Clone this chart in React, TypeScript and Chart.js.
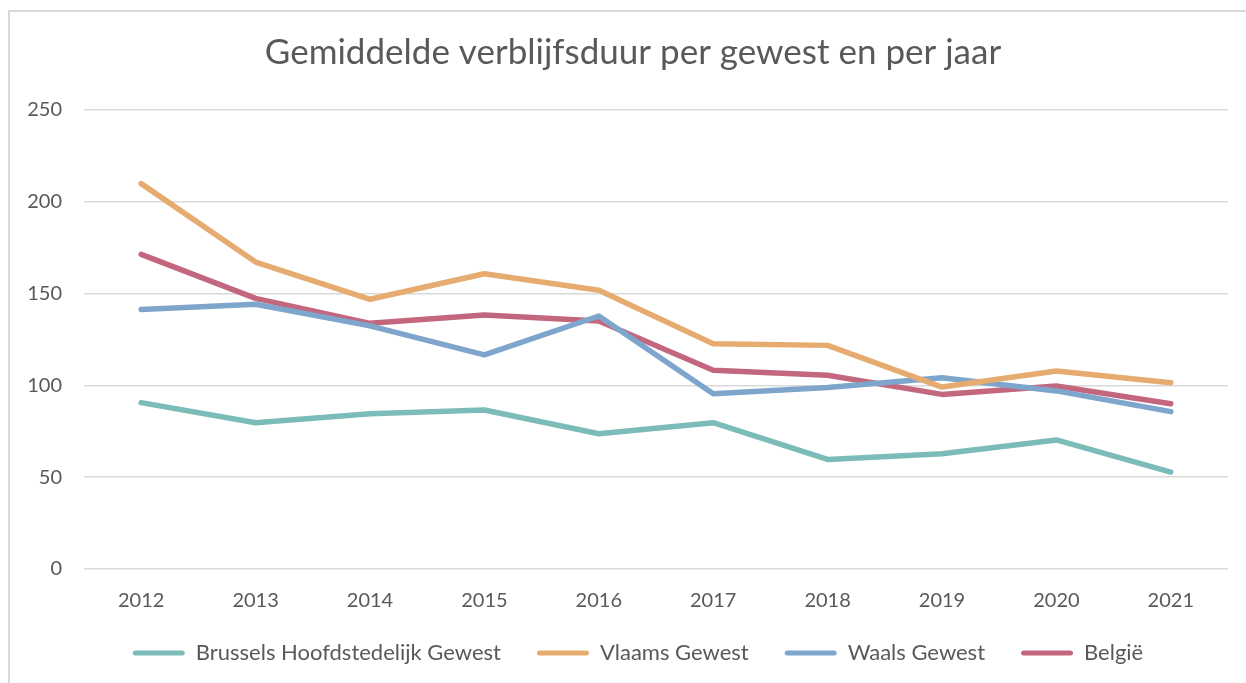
import React, { useEffect, useRef } from "react";
import { Chart, registerables } from "chart.js";

Chart.register(...registerables);

const years = ["2012", "2013", "2014", "2015", "2016", "2017", "2018", "2019", "2020", "2021"];
const brussels = [90.6, 79.7, 84.6, 86.6, 73.7, 79.7, 59.7, 62.8, 70.3, 52.8];
const vlaams = [209.9, 167.2, 146.9, 160.8, 151.8, 122.7, 121.8, 99.1, 107.8, 101.5];
const waals = [141.4, 144.2, 132.4, 116.6, 137.8, 95.5, 98.8, 104.2, 97.0, 85.7];
const belgie = [171.4, 147.4, 133.8, 138.3, 135.1, 108.2, 105.5, 95.1, 99.7, 90.0];
const seriesNames = ["Brussels Hoofdstedelijk Gewest", "Vlaams Gewest", "Waals Gewest", "België"];
const seriesColors = ["#7bbcb8", "#e6ab6f", "#7ea6cd", "#c3677f"];
const titleText = "Gemiddelde verblijfsduur per gewest en per jaar";

const FONT = "Lato, 'Open Sans', sans-serif";
const TEXT = "#595959";

const shiftBoxes = {
  id: "shiftBoxes",
  afterLayout(chart: any) {
    const t = chart.titleBlock;
    if (t) {
      t.left += 19;
      t.right += 19;
    }
    const l = chart.legend;
    if (l) {
      l.left += 24;
      l.right += 24;
    }
    const x = chart.scales.x;
    if (x) {
      x.bottom += 27;
      x.height += 27;
    }
  },
};

export default function App() {
  const ref = useRef<HTMLCanvasElement | null>(null);

  useEffect(() => {
    const canvas = ref.current;
    if (!canvas) return;
    const values = [brussels, vlaams, waals, belgie];
    const chart = new Chart(canvas, {
      type: "line",
      data: {
        labels: years,
        datasets: values.map((v, i) => ({
          label: seriesNames[i],
          data: v,
          borderColor: seriesColors[i],
          backgroundColor: seriesColors[i],
          borderWidth: 5.5,
          pointRadius: 0,
          tension: 0,
          borderCapStyle: "round" as const,
          borderJoinStyle: "round" as const,
        })),
      },
      plugins: [shiftBoxes],
      options: {
        animation: false,
        responsive: false,
        maintainAspectRatio: false,
        layout: { padding: { left: 0, right: 18, top: 0, bottom: 9 } },
        plugins: {
          title: {
            display: true,
            text: titleText,
            color: TEXT,
            font: { family: FONT, size: 35, weight: "normal" },
            padding: { top: 32, bottom: 36 },
          },
          legend: {
            position: "bottom",
            labels: {
              color: TEXT,
              font: { family: FONT, size: 22 },
              boxWidth: 52,
              boxHeight: 5,
              padding: 36,
              useBorderRadius: true,
              borderRadius: 2.5,
              generateLabels: (c: any) =>
                c.data.datasets.map((d: any, i: number) => ({
                  text: d.label,
                  fillStyle: d.borderColor,
                  strokeStyle: d.borderColor,
                  lineWidth: 0,
                  fontColor: TEXT,
                  hidden: false,
                  datasetIndex: i,
                  borderRadius: 2.5,
                })),
            },
          },
          tooltip: { enabled: false },
        },
        scales: {
          x: {
            offset: true,
            grid: { display: false, drawTicks: false },
            border: { display: false },
            ticks: { color: TEXT, font: { family: FONT, size: 20 }, padding: 20, maxRotation: 0 },
            afterFit: (s: any) => {
              s.height -= 27;
            },
          },
          y: {
            min: 0,
            max: 250,
            grid: { color: "#d9d9d9", lineWidth: 1.5, drawTicks: false },
            border: { display: false },
            ticks: { stepSize: 50, color: TEXT, font: { family: FONT, size: 20 }, padding: 22 },
            afterFit: (s: any) => {
              s.width = 84;
            },
          },
        },
      },
    });
    return () => chart.destroy();
  }, []);

  return (
    <>
      <div
        style={{
          position: "fixed",
          left: 8,
          top: 10,
          right: 0,
          bottom: 0,
          borderTop: "2px solid #d9d9d9",
          borderLeft: "2px solid #d9d9d9",
          background: "#fff",
        }}
      />
      <canvas
        ref={ref}
        width={1246}
        height={683}
        style={{ position: "fixed", left: 0, top: 0, width: 1246, height: 683 }}
      />
    </>
  );
}
